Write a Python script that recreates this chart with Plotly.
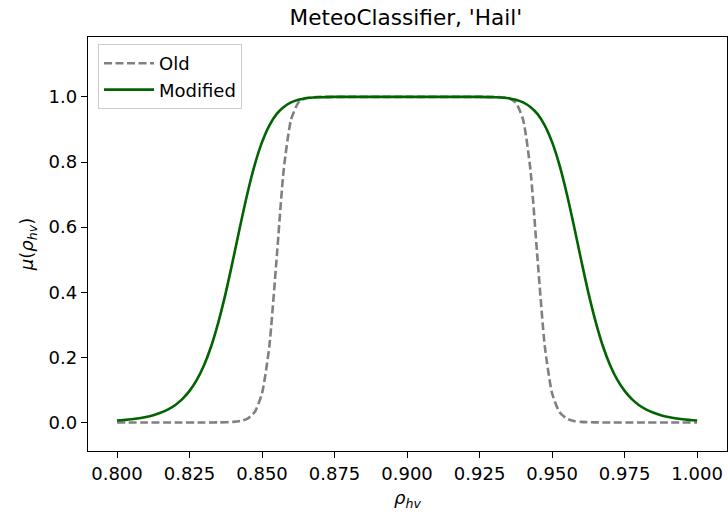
import plotly.graph_objects as go

# Data
old_x = [0.800, 0.810, 0.820, 0.830, 0.835, 0.840, 0.8425, 0.845, 0.8475, 0.850,
         0.8525, 0.855, 0.8575, 0.860, 0.8625, 0.865, 0.8675, 0.870, 0.880, 0.900,
         0.920, 0.930, 0.9325, 0.935, 0.9375, 0.940, 0.9425, 0.945, 0.9475, 0.950,
         0.9525, 0.955, 0.9575, 0.960, 0.965, 0.970, 0.980, 0.990, 1.000]
old_y = [0.000, 0.000, 0.000, 0.000, 0.0003, 0.0018, 0.0045, 0.0119, 0.0326, 0.0897,
         0.233, 0.500, 0.779, 0.930, 0.982, 0.996, 0.999, 1.000, 1.000, 1.000,
         1.000, 1.000, 0.999, 0.996, 0.982, 0.930, 0.779, 0.500, 0.233, 0.0897,
         0.0326, 0.0119, 0.0045, 0.0018, 0.0003, 0.000, 0.000, 0.000, 0.000]

mod_x = [0.800, 0.805, 0.810, 0.8125, 0.815, 0.8175, 0.820, 0.8225, 0.825, 0.8275,
         0.830, 0.8325, 0.835, 0.8375, 0.840, 0.8425, 0.845, 0.8475, 0.850, 0.8525,
         0.855, 0.8575, 0.860, 0.8625, 0.865, 0.870, 0.875, 0.880, 0.890, 0.900,
         0.910, 0.920, 0.925, 0.930, 0.935, 0.9375, 0.940, 0.9425, 0.945, 0.9475,
         0.950, 0.9525, 0.955, 0.9575, 0.960, 0.9625, 0.965, 0.9675, 0.970, 0.9725,
         0.975, 0.9775, 0.980, 0.9825, 0.985, 0.9875, 0.990, 0.995, 1.000]
mod_y = [0.006, 0.010, 0.017, 0.0225, 0.030, 0.0397, 0.053, 0.0718, 0.097, 0.131,
         0.176, 0.235, 0.310, 0.399, 0.500, 0.605, 0.705, 0.792, 0.861, 0.912,
         0.947, 0.969, 0.983, 0.991, 0.996, 0.999, 1.000, 1.000, 1.000, 1.000,
         1.000, 1.000, 1.000, 0.999, 0.996, 0.991, 0.983, 0.969, 0.947, 0.912,
         0.861, 0.792, 0.705, 0.605, 0.500, 0.399, 0.310, 0.235, 0.176, 0.131,
         0.097, 0.0718, 0.053, 0.0397, 0.030, 0.0225, 0.017, 0.010, 0.006]

x_ticks = [0.800, 0.825, 0.850, 0.875, 0.900, 0.925, 0.950, 0.975, 1.000]
y_ticks = [0.0, 0.2, 0.4, 0.6, 0.8, 1.0]

font = "DejaVu Sans, Liberation Sans, sans-serif"

fig = go.Figure()
fig.add_trace(go.Scatter(x=old_x, y=old_y, mode="lines", name="Old",
                         line=dict(color="#808080", width=2.6, dash="8px,3.5px",
                                   shape="spline", smoothing=0.6)))
fig.add_trace(go.Scatter(x=mod_x, y=mod_y, mode="lines", name="Modified",
                         line=dict(color="#006400", width=2.6,
                                   shape="spline", smoothing=1.0)))

axis_common = dict(showline=True, mirror=True, linecolor="black", linewidth=1.4,
                   ticks="outside", ticklen=6, tickwidth=1.4, tickcolor="black",
                   showgrid=False, zeroline=False,
                   tickfont=dict(family=font, size=18, color="black"))

fig.update_layout(
    width=728, height=515,
    margin=dict(l=88, r=1, t=37, b=64),
    plot_bgcolor="white", paper_bgcolor="white",
    font=dict(family=font, size=18, color="black"),
    title=dict(text="MeteoClassifier, 'Hail'", x=0.5575, xanchor="center",
               xref="container", y=1 - 17 / 515, yref="container", yanchor="middle",
               font=dict(family=font, size=21.6, color="black")),
    xaxis=dict(range=[0.790, 1.0103], tickvals=x_ticks, tickformat=".3f",
               title=dict(text="<i>ρ</i><sub><i>hv</i></sub>", standoff=8,
                          font=dict(family=font, size=18)),
               **axis_common),
    yaxis=dict(range=[-0.0876, 1.184], tickvals=y_ticks, tickformat=".1f",
               title=dict(text="<i>μ</i>(<i>ρ</i><sub><i>hv</i></sub>)", standoff=10,
                          font=dict(family=font, size=18)),
               **axis_common),
    legend=dict(x=(98 - 88) / 639, y=1 - (44 - 37) / 414, xanchor="left", yanchor="top",
                bgcolor="rgba(255,255,255,0.8)", bordercolor="#cccccc", borderwidth=1,
                font=dict(family=font, size=18, color="black"),
                tracegroupgap=0, itemwidth=50),
    showlegend=True,
)

fig.write_html("out.html")
